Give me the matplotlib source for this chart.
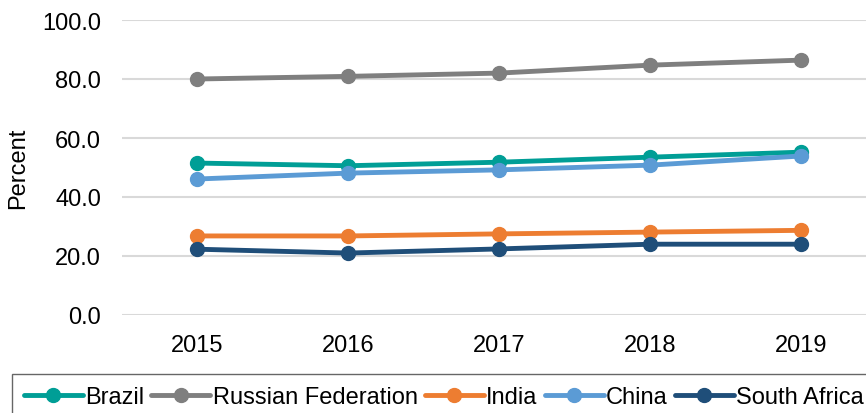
import matplotlib
matplotlib.use('Agg')
import matplotlib.pyplot as plt

years = ['2015', '2016', '2017', '2018', '2019']
brazil = [51.5, 50.6, 51.8, 53.5, 55.2]
russia = [80.0, 80.9, 82.0, 84.7, 86.4]
india = [26.8, 26.8, 27.5, 28.1, 28.7]
china = [46.1, 48.1, 49.2, 50.8, 53.9]
south_africa = [22.3, 21.0, 22.4, 24.0, 24.0]
y_ticks = [0, 20, 40, 60, 80, 100]

series = [
    ('Brazil', brazil, '#009e96'),
    ('Russian Federation', russia, '#7f7f7f'),
    ('India', india, '#ed7d31'),
    ('China', china, '#5b9bd5'),
    ('South Africa', south_africa, '#1f4e79'),
]

plt.rcParams['font.family'] = ['Liberation Sans', 'DejaVu Sans']

fig = plt.figure(figsize=(8.66, 4.14), dpi=100)
ax_w = 1 - 122 / 866
ax = fig.add_axes([122 / 866, 1 - 316 / 414, ax_w, (316 - 21) / 414])

x = range(len(years))
for name, vals, col in series:
    ax.plot(x, vals, color=col, lw=3.5, marker='o', ms=10, label=name,
            solid_capstyle='round')

ax.set_ylim(0, 100)
ax.set_xlim(-0.5, 4.43)
ax.set_yticks(y_ticks)
ax.set_yticklabels([f'{v:.1f}' for v in y_ticks])
ax.set_xticks(list(x))
ax.set_xticklabels(years)
ax.tick_params(length=0, labelsize=17)
ax.tick_params(axis='x', pad=14)
ax.tick_params(axis='y', pad=15)
ax.grid(axis='y', color='#d9d9d9', lw=1.5)
ax.set_axisbelow(True)
for s in ax.spines.values():
    s.set_visible(False)
ax.set_ylabel('Percent', fontsize=17)
ax.yaxis.set_label_coords((29 - 122) / 866 / ax_w, 0.5)

leg = fig.legend(loc='upper left', bbox_to_anchor=(12 / 866, 1 - 375 / 414),
                 ncol=5, fontsize=17, frameon=True, fancybox=False,
                 handlelength=2.5, handletextpad=0.1, columnspacing=0.3,
                 borderpad=0.5, borderaxespad=0)
leg.get_frame().set_edgecolor('#404040')
leg.get_frame().set_linewidth(1)

fig.savefig('out.png', dpi=100)
